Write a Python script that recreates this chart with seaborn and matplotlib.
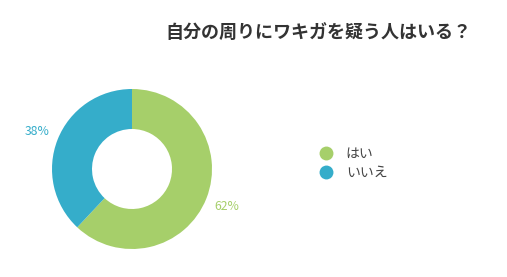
import matplotlib
matplotlib.use("Agg")
import matplotlib.pyplot as plt
from matplotlib.lines import Line2D
import seaborn as sns

labels = ["はい", "いいえ"]
values = [62, 38]
colors = ["#a6cf6a", "#35adca"]
title = "自分の周りにワキガを疑う人はいる？"

sns.set_theme(style="white")
plt.rcParams['font.family'] = ['Noto Sans CJK JP', 'DejaVu Sans']

fig = plt.figure(figsize=(5.07, 2.77), dpi=100)
ax = fig.add_axes([52 / 507, 28 / 277, 160 / 507, 160 / 277])

wedges, texts, autotexts = ax.pie(values, colors=colors, startangle=90, counterclock=False,
                                  wedgeprops=dict(width=0.5, edgecolor="none"),
                                  autopct="%d%%", pctdistance=1.27,
                                  textprops=dict(fontsize=8.8))
for t, c in zip(autotexts, colors):
    t.set_color(c)
    t.set_clip_on(False)
ax.set_xlim(-1, 1)
ax.set_ylim(-1, 1)
ax.set_aspect("equal")

fig.text(318 / 507, 1 - 33 / 277, title, ha="center", va="center",
         fontsize=13, fontweight="bold", color="#333333")

handles = [Line2D([], [], marker="o", linestyle="none", markersize=10,
                  markerfacecolor=c, markeredgecolor="none") for c in colors]
fig.legend(handles, labels, loc="center left", bbox_to_anchor=(300 / 507, 1 - 163 / 277),
           frameon=False, fontsize=10, handletextpad=0.4, labelspacing=0.35,
           labelcolor="#444444")

fig.savefig("out.png", dpi=100)
